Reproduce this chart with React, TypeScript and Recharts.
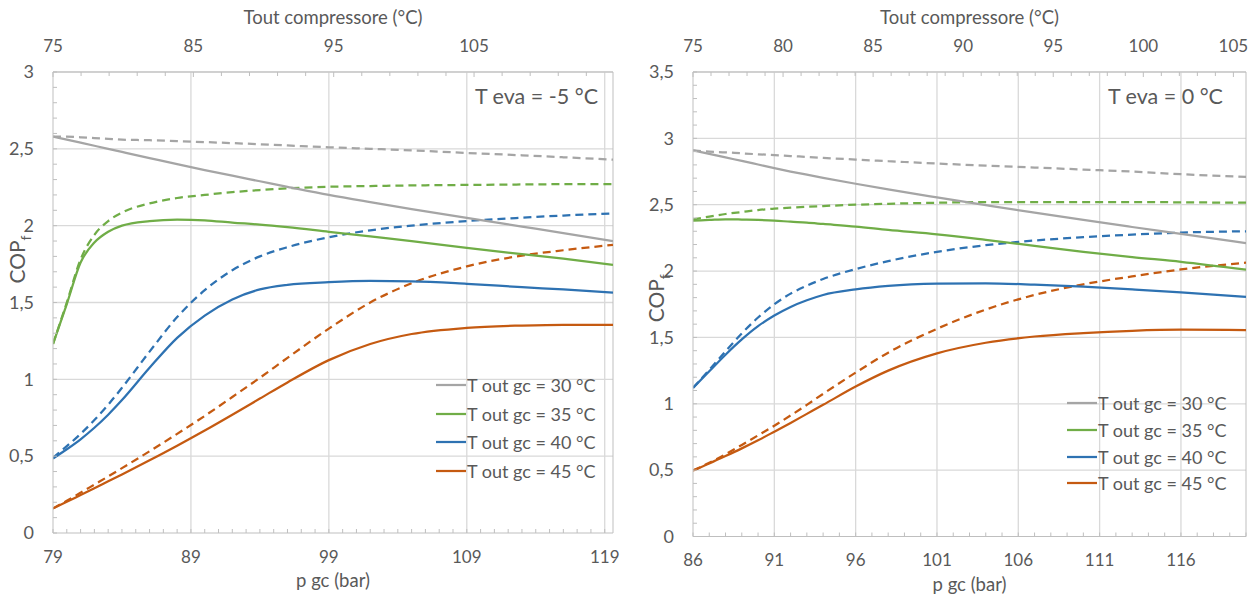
import React from "react";
import { LineChart, Line, XAxis, YAxis, ReferenceLine, Legend } from "recharts";

// T eva = -5 °C
const pLeft = [79, 80, 81, 82, 83, 84, 86, 88, 90, 92, 94, 96, 99, 102, 105, 109, 113, 116, 119.6];
const left30 = [2.58, 2.56, 2.54, 2.52, 2.5, 2.48, 2.44, 2.4, 2.362, 2.325, 2.289, 2.253, 2.2, 2.153, 2.108, 2.05, 1.994, 1.952, 1.9];
const left30Dash = [2.58, 2.58, 2.575, 2.57, 2.565, 2.56, 2.556, 2.55, 2.544, 2.537, 2.53, 2.522, 2.51, 2.5, 2.49, 2.473, 2.458, 2.445, 2.43];
const left35 = [1.23, 1.49, 1.76, 1.89, 1.96, 2.0, 2.03, 2.04, 2.035, 2.02, 2.007, 1.99, 1.96, 1.93, 1.9, 1.855, 1.815, 1.785, 1.745];
const left35Dash = [1.23, 1.5, 1.78, 1.94, 2.03, 2.085, 2.145, 2.18, 2.2, 2.218, 2.232, 2.243, 2.253, 2.258, 2.262, 2.265, 2.268, 2.27, 2.27];
const left40 = [0.485, 0.545, 0.61, 0.685, 0.77, 0.865, 1.075, 1.27, 1.415, 1.52, 1.585, 1.615, 1.632, 1.64, 1.638, 1.622, 1.6, 1.585, 1.565];
const left40Dash = [0.49, 0.565, 0.645, 0.735, 0.835, 0.945, 1.18, 1.405, 1.58, 1.71, 1.8, 1.86, 1.925, 1.97, 2.0, 2.03, 2.052, 2.066, 2.08];
const left45 = [0.16, 0.203, 0.247, 0.291, 0.336, 0.381, 0.473, 0.568, 0.667, 0.77, 0.875, 0.98, 1.125, 1.23, 1.295, 1.335, 1.35, 1.355, 1.355];
const left45Dash = [0.16, 0.21, 0.262, 0.315, 0.368, 0.422, 0.532, 0.645, 0.762, 0.885, 1.01, 1.14, 1.33, 1.5, 1.625, 1.735, 1.805, 1.84, 1.875];

// T eva = 0 °C
const pRight = [86, 87, 88, 89, 90, 91, 92, 93, 94, 96, 98, 101, 104, 107, 110, 113, 116, 120];
const right30 = [2.91, 2.883, 2.856, 2.83, 2.803, 2.776, 2.75, 2.726, 2.703, 2.658, 2.615, 2.555, 2.497, 2.44, 2.385, 2.332, 2.28, 2.21];
const right30Dash = [2.91, 2.9, 2.895, 2.887, 2.88, 2.874, 2.867, 2.86, 2.853, 2.84, 2.828, 2.81, 2.795, 2.78, 2.765, 2.75, 2.73, 2.71];
const right35 = [2.38, 2.385, 2.39, 2.388, 2.385, 2.38, 2.372, 2.365, 2.355, 2.335, 2.31, 2.277, 2.235, 2.19, 2.145, 2.105, 2.07, 2.01];
const right35Dash = [2.39, 2.41, 2.43, 2.445, 2.46, 2.47, 2.478, 2.485, 2.49, 2.5, 2.507, 2.515, 2.52, 2.52, 2.52, 2.52, 2.518, 2.515];
const right40 = [1.12, 1.245, 1.37, 1.485, 1.585, 1.665, 1.73, 1.78, 1.82, 1.862, 1.888, 1.905, 1.908, 1.898, 1.882, 1.862, 1.84, 1.805];
const right40Dash = [1.12, 1.255, 1.395, 1.53, 1.65, 1.75, 1.83, 1.89, 1.94, 2.015, 2.075, 2.145, 2.195, 2.23, 2.255, 2.275, 2.29, 2.3];
const right45 = [0.497, 0.55, 0.606, 0.664, 0.725, 0.79, 0.856, 0.924, 0.992, 1.13, 1.25, 1.38, 1.46, 1.507, 1.533, 1.55, 1.558, 1.555];
const right45Dash = [0.497, 0.555, 0.62, 0.69, 0.762, 0.835, 0.912, 0.992, 1.075, 1.235, 1.385, 1.565, 1.71, 1.82, 1.9, 1.96, 2.012, 2.063];

const seriesNames = ["T out gc = 30 °C", "T out gc = 35 °C", "T out gc = 40 °C", "T out gc = 45 °C"];
const seriesColors = ["#A5A5A5", "#70AD47", "#2E72B2", "#C55A11"];

const FONT = "Lato, 'Open Sans', sans-serif";
const INK = "#595959";
const AXIS = "#BFBFBF";
const GRID = "#D9D9D9";

const steps = (from: number, to: number, step: number) => {
  const out: number[] = [];
  for (let v = from; v <= to + 1e-9; v += step) out.push(Math.round(v * 1000) / 1000);
  return out;
};
const onStep = (v: number, from: number, step: number) => {
  const k = (v - from) / step;
  return Math.abs(k - Math.round(k)) < 1e-6;
};
const comma = (v: number) => String(v).replace(".", ",");

const YTick = ({ x, y, payload, major }: any) => (
  <g>
    <line x1={x} x2={x + 4} y1={y} y2={y} stroke={AXIS} />
    {onStep(payload.value, 0, major) && (
      <text x={x - 19} y={y} dy="0.35em" textAnchor="end" fill={INK} fontSize={18} fontFamily={FONT}>
        {comma(payload.value)}
      </text>
    )}
  </g>
);

const BottomTick = ({ x, y, payload, from, major }: any) => (
  <g>
    <line x1={x} x2={x} y1={y} y2={y - 4} stroke={AXIS} />
    {onStep(payload.value, from, major) && (
      <text x={x} y={y + 24} dy="0.35em" textAnchor="middle" fill={INK} fontSize={17} fontFamily={FONT}>
        {payload.value}
      </text>
    )}
  </g>
);

// top scale: compressor outlet temperature, linear in p gc
const TopTick = ({ x, y, payload, toT, from, major }: any) => {
  const t = toT(payload.value);
  const big = onStep(t, from, major);
  return (
    <g>
      <line x1={x} x2={x} y1={y} y2={y + (big ? 5 : 4)} stroke={AXIS} />
      {big && (
        <text x={x} y={y - 26} dy="0.35em" textAnchor="middle" fill={INK} fontSize={17} fontFamily={FONT}>
          {t}
        </text>
      )}
    </g>
  );
};

const AxisTitle = ({ viewBox, text, dy }: any) => (
  <text x={viewBox.x + viewBox.width / 2} y={viewBox.y + dy} dy="0.35em" textAnchor="middle"
    fill={INK} fontSize={18.5} fontFamily={FONT}>
    {text}
  </text>
);

const CopTitle = ({ viewBox, shift, dx }: any) => {
  const cx = viewBox.x + dx;
  const cy = viewBox.y + viewBox.height / 2 + shift;
  return (
    <text x={cx} y={cy} transform={`rotate(-90 ${cx} ${cy})`} textAnchor="middle" dy="0.35em"
      fill={INK} fontSize={21} fontFamily={FONT}>
      COP<tspan fontSize={14} dy={6}>f</tspan>
    </text>
  );
};

const KeyList = ({ payload, rowH }: any) => (
  <div style={{ fontFamily: FONT, fontSize: 18, color: INK, lineHeight: 1 }}>
    {(payload || [])
      .filter((e: any) => seriesNames.includes(e.value))
      .map((e: any) => (
        <div key={e.value} style={{ display: "flex", alignItems: "center", height: rowH }}>
          <svg width={30} height={4} style={{ display: "block" }}>
            <line x1={0} x2={30} y1={2} y2={2} stroke={e.color} strokeWidth={2.25} />
          </svg>
          <span style={{ marginLeft: 1, whiteSpace: "nowrap" }}>{e.value}</span>
        </div>
      ))}
  </div>
);

interface PanelProps {
  p: number[];
  solid: number[][];
  dashed: number[][];
  width: number;
  xDomain: [number, number];
  xMajor: number;
  topDomain: [number, number];
  topStep: number;
  topMajor: number;
  yMax: number;
  yWidth: number;
  right: number;
  bottomH: number;
  note: string;
  noteRight: number;
  copShift: number;
  copDx: number;
  keyTop: number;
  keyLeft: number;
  keyRow: number;
}

function Panel(props: PanelProps) {
  const { p, solid, dashed, width, xDomain, xMajor, topDomain, topStep, topMajor, yMax } = props;
  const data = p.map((v, i) => {
    const row: any = { p: v };
    solid.forEach((s, k) => (row[`s${k}`] = s[i]));
    dashed.forEach((s, k) => (row[`d${k}`] = s[i]));
    return row;
  });
  const xTicks = steps(xDomain[0], Math.floor(xDomain[1]), 1);
  const xGrid = xTicks.filter((v) => v > xDomain[0] && onStep(v, xDomain[0], xMajor));
  const ratio = (xDomain[1] - xDomain[0]) / (topDomain[1] - topDomain[0]);
  const toP = (t: number) => xDomain[0] + (t - topDomain[0]) * ratio;
  const toT = (v: number) => Math.round(topDomain[0] + (v - xDomain[0]) / ratio);
  const topTicks = steps(topDomain[0], Math.floor(topDomain[1]), topStep).map(toP);
  const yTicks = steps(0, yMax, 0.1);
  const yGrid = steps(0.5, yMax, 0.5);

  return (
    <div style={{ position: "relative", width, height: 600 }}>
      <LineChart width={width} height={600} data={data}
        margin={{ top: 0, right: props.right, bottom: 0, left: 0 }}>
        <XAxis xAxisId="top" orientation="top" dataKey="p" type="number" domain={xDomain} allowDataOverflow
          ticks={topTicks} interval={0} height={72} tickSize={0} tickMargin={0} tickLine={false}
          stroke={AXIS} tick={<TopTick toT={toT} from={topDomain[0]} major={topMajor} />}
          label={<AxisTitle text="Tout compressore (°C)" dy={18} />} />
        <XAxis dataKey="p" type="number" domain={xDomain} allowDataOverflow ticks={xTicks} interval={0}
          height={props.bottomH} tickSize={0} tickMargin={0} tickLine={false} stroke={AXIS}
          tick={<BottomTick from={xDomain[0]} major={xMajor} />}
          label={<AxisTitle text="p gc (bar)" dy={48} />} />
        <YAxis type="number" domain={[0, yMax]} ticks={yTicks} interval={0} width={props.yWidth}
          tickSize={0} tickMargin={0} tickLine={false} stroke={AXIS} tick={<YTick major={0.5} />}
          label={<CopTitle shift={props.copShift} dx={props.copDx} />} />
        {yGrid.map((v) => (
          <ReferenceLine key={`h${v}`} y={v} stroke={GRID} strokeWidth={1.3} />
        ))}
        {xGrid.map((v) => (
          <ReferenceLine key={`v${v}`} x={v} stroke={GRID} strokeWidth={1.3} />
        ))}
        <ReferenceLine x={xDomain[1]} stroke={AXIS} />
        <Legend layout="vertical" align="center" verticalAlign="middle"
          wrapperStyle={{ left: props.keyLeft, top: props.keyTop, width: 200 }}
          content={<KeyList rowH={props.keyRow} />} />
        {dashed.map((_, k) => (
          <Line key={`d${k}`} xAxisId="top" dataKey={`d${k}`} type="monotone" stroke={seriesColors[k]}
            strokeWidth={2.25} strokeDasharray="8 5" dot={false} activeDot={false} legendType="none"
            isAnimationActive={false} />
        ))}
        {solid.map((_, k) => (
          <Line key={`s${k}`} dataKey={`s${k}`} name={seriesNames[k]} type="monotone" stroke={seriesColors[k]}
            strokeWidth={2.25} dot={false} activeDot={false} isAnimationActive={false} />
        ))}
      </LineChart>
      <div style={{ position: "absolute", top: 83, right: props.noteRight, fontFamily: FONT,
        fontSize: 21.5, color: INK, whiteSpace: "nowrap", lineHeight: "26px" }}>
        {props.note}
      </div>
    </div>
  );
}

export default function App() {
  return (
    <div style={{ position: "absolute", left: 0, top: 0, width: 1251, height: 600, background: "#fff", display: "flex" }}>
      <Panel p={pLeft} solid={[left30, left35, left40, left45]} dashed={[left30Dash, left35Dash, left40Dash, left45Dash]}
        width={630} xDomain={[79, 119.6]} xMajor={10} topDomain={[75, 114.9]} topStep={2} topMajor={10}
        yMax={3} yWidth={53} right={17} bottomH={67} note="T eva = -5 °C" noteRight={32} copShift={-43} copDx={18}
        keyTop={371} keyLeft={436} keyRow={28.5} />
      <Panel p={pRight} solid={[right30, right35, right40, right45]} dashed={[right30Dash, right35Dash, right40Dash, right45Dash]}
        width={621} xDomain={[86, 120]} xMajor={5} topDomain={[75, 105.7]} topStep={1} topMajor={5}
        yMax={3.5} yWidth={63} right={5} bottomH={63.5} note="T eva = 0 °C" noteRight={28} copShift={-6} copDx={27}
        keyTop={390} keyLeft={437} keyRow={26.7} />
    </div>
  );
}
